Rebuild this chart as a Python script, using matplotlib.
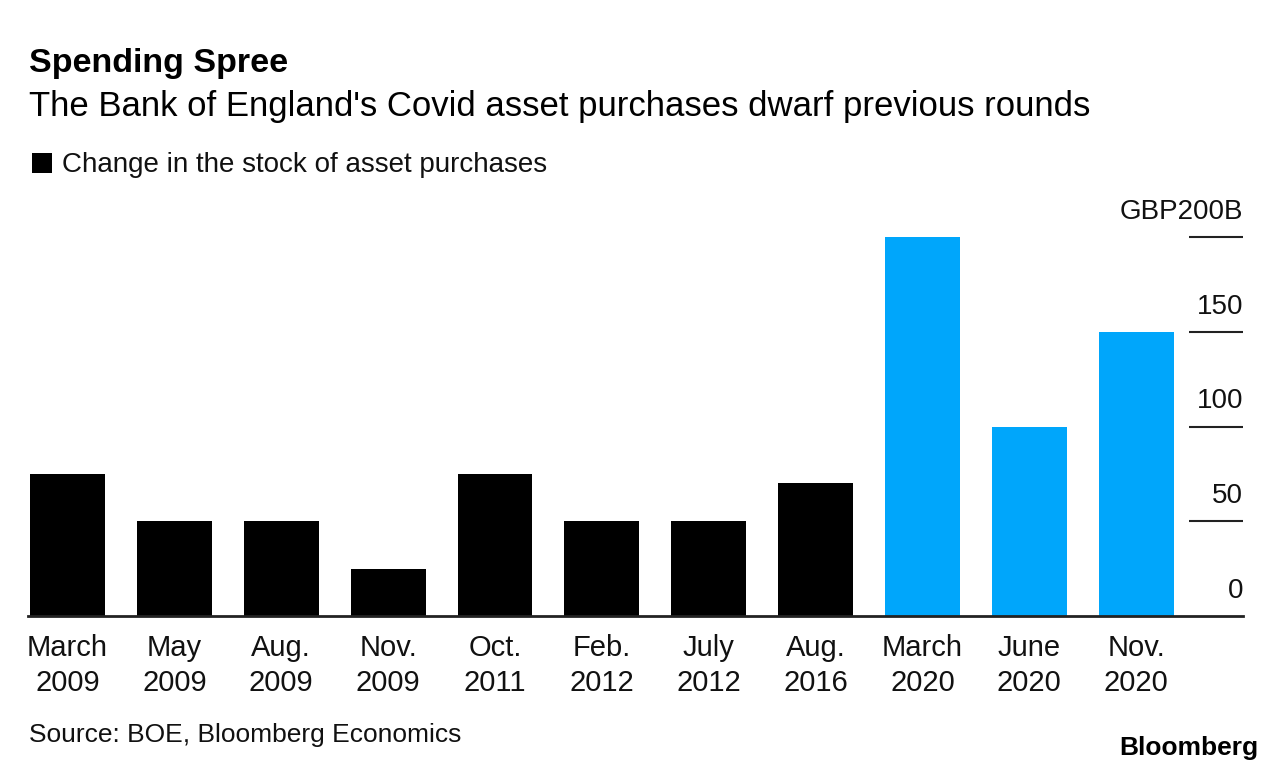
import matplotlib
matplotlib.use("Agg")
import matplotlib.pyplot as plt
from matplotlib.patches import Rectangle

categories = ["March\n2009", "May\n2009", "Aug.\n2009", "Nov.\n2009", "Oct.\n2011",
              "Feb.\n2012", "July\n2012", "Aug.\n2016", "March\n2020", "June\n2020", "Nov.\n2020"]
values = [75, 50, 50, 25, 75, 50, 50, 70, 200, 100, 150]
is_covid = [False] * 8 + [True] * 3
ytick_values = [0, 50, 100, 150, 200]
ytick_labels = ["0", "50", "100", "150", "GBP200B"]

BLACK = "#000000"
BLUE = "#00A6FB"
FONT = "Liberation Sans"

plt.rcParams["font.family"] = [FONT, "DejaVu Sans"]

W, H = 1286, 772
fig = plt.figure(figsize=(W / 100, H / 100), dpi=100)

def fx(px):
    return px / W

def fy(py):
    return 1 - py / H

ax = fig.add_axes([fx(28), fy(616), fx(1243) - fx(28), fy(237) - fy(616)])

x = list(range(len(categories)))
colors = [BLUE if c else BLACK for c in is_covid]
ax.bar(x, values, width=0.70, color=colors, zorder=2)

ax.set_xlim(-0.37, 11.0)
ax.set_ylim(0, 200)

for s in ax.spines.values():
    s.set_visible(False)
ax.axhline(0, color="#222222", linewidth=2.0, zorder=3, clip_on=False)

# short gridline segments on the right
for v, lab in zip(ytick_values, ytick_labels):
    if v != 0:
        ax.hlines(v, 10.49, 11.0, color="#222222", linewidth=1.5, clip_on=False, zorder=3)
    ax.annotate(lab, xy=(11.0, v), xytext=(0, 13), textcoords="offset points",
                ha="right", va="baseline", fontsize=20, color="#111111",
                annotation_clip=False)

ax.set_yticks([])
ax.set_xticks(x)
ax.set_xticklabels(categories, fontsize=21, linespacing=1.33, color="#111111")
ax.tick_params(axis="x", length=0, pad=13)

fig.text(fx(29), fy(72), "Spending Spree", fontsize=24.5, fontweight="bold",
         ha="left", va="baseline", color="#000000")
fig.text(fx(29), fy(116), "The Bank of England's Covid asset purchases dwarf previous rounds",
         fontsize=25, ha="left", va="baseline", color="#000000")

# legend
fig.patches.append(Rectangle((fx(32), fy(173)), fx(20), fy(153) - fy(173),
                             transform=fig.transFigure, facecolor=BLACK, edgecolor="none"))
fig.text(fx(62), fy(172), "Change in the stock of asset purchases", fontsize=20,
         ha="left", va="baseline", color="#111111")

fig.text(fx(29), fy(742), "Source: BOE, Bloomberg Economics", fontsize=19,
         ha="left", va="baseline", color="#111111")
fig.text(fx(1258), fy(755), "Bloomberg", fontsize=19, fontweight="bold",
         ha="right", va="baseline", color="#000000")

fig.savefig("out.png", dpi=100, facecolor="white")
